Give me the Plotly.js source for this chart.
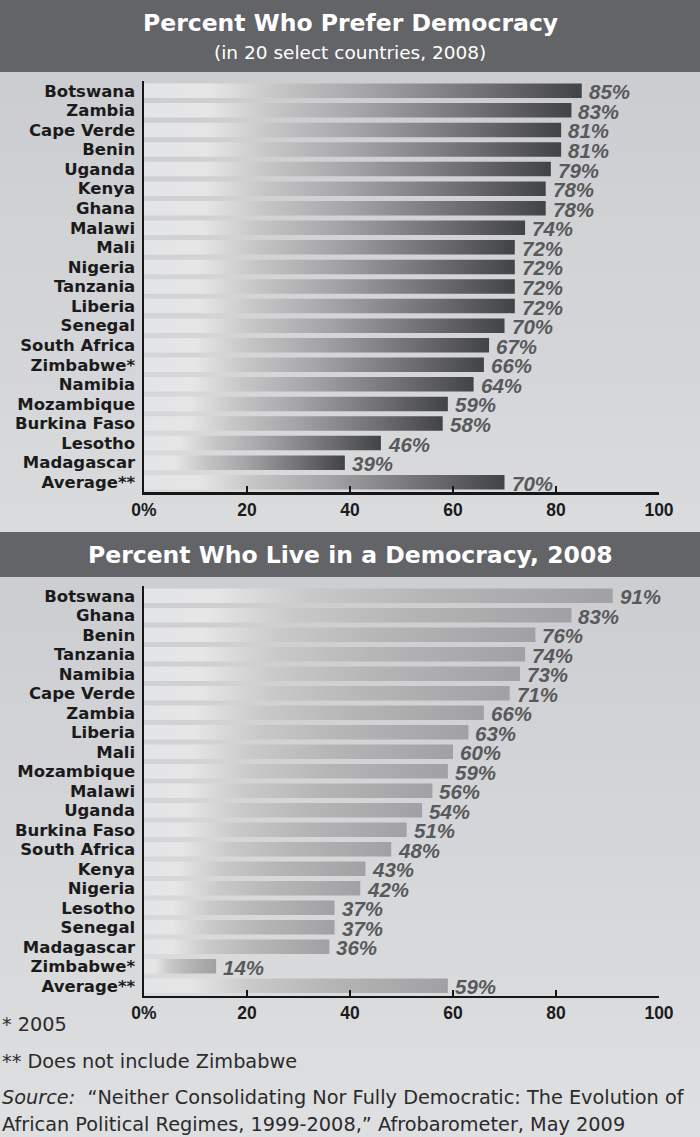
<!DOCTYPE html>
<html>
<head>
<meta charset="utf-8">
<script src="https://cdn.plot.ly/plotly-3.0.1.min.js"></script>
<style>
  html, body { margin: 0; padding: 0; background: #d8d9db; }
  #chart { width: 700px; height: 1137px; }
</style>
</head>
<body>
<div id="chart"></div>
<script>
// ---- Data ----
const preferCountries = ["Botswana","Zambia","Cape Verde","Benin","Uganda","Kenya","Ghana","Malawi","Mali","Nigeria","Tanzania","Liberia","Senegal","South Africa","Zimbabwe*","Namibia","Mozambique","Burkina Faso","Lesotho","Madagascar","Average**"];
const preferValues = [85,83,81,81,79,78,78,74,72,72,72,72,70,67,66,64,59,58,46,39,70];

const liveCountries = ["Botswana","Ghana","Benin","Tanzania","Namibia","Cape Verde","Zambia","Liberia","Mali","Mozambique","Malawi","Uganda","Burkina Faso","South Africa","Kenya","Nigeria","Lesotho","Senegal","Madagascar","Zimbabwe*","Average**"];
const liveValues = [91,83,76,74,73,71,66,63,60,59,56,54,51,48,43,42,37,37,36,14,59];

const xTickVals = [0,20,40,60,80,100];
const xTickText = ["0%","20","40","60","80","100"];

const title1 = "Percent Who Prefer Democracy";
const subtitle1 = "(in 20 select countries, 2008)";
const title2 = "Percent Who Live in a Democracy, 2008";
const footnote1 = "* 2005";
const footnote2 = "** Does not include Zimbabwe";
const source1 = "<i>Source:</i>\u00a0\u00a0“Neither Consolidating Nor Fully Democratic: The Evolution of";
const source2 = "African Political Regimes, 1999-2008,” Afrobarometer, May 2009";

// ---- Styles ----
const W = 700, H = 1137;
const py = px => 1 - px / H;
const HALF = 0.37;
const darkScale = [[0,'#e3e4e5'],[0.15,'#e6e6e7'],[0.3,'#c6c6c7'],[0.5,'#a6a6a8'],[0.8,'#6c6c6f'],[1,'#424346']];
const lightScale = [[0,'#e3e4e5'],[0.15,'#e6e6e7'],[0.35,'#c9c9ca'],[0.6,'#b6b6b7'],[1,'#a1a1a3']];

const traces = [];
function addBars(values, xa, ya, scale) {
  values.forEach((v, i) => {
    traces.push({
      type: 'scatter', mode: 'none', xaxis: xa, yaxis: ya,
      x: [0, v, v, 0, 0],
      y: [i - HALF, i - HALF, i + HALF, i + HALF, i - HALF],
      fill: 'toself',
      fillcolor: '#888',
      fillgradient: { type: 'horizontal', colorscale: scale },
      hoverinfo: 'skip', showlegend: false
    });
  });
}
addBars(preferValues, 'x', 'y', darkScale);
addBars(liveValues, 'x2', 'y2', lightScale);

const valueFont = { family: 'Liberation Sans, Arial, sans-serif', size: 20.5, weight: 'bold', style: 'italic', color: '#58595b' };
const annotations = [];
function addLabels(values, xa, ya) {
  values.forEach((v, i) => {
    annotations.push({
      xref: xa, yref: ya, x: v, y: i, text: v + '%',
      xanchor: 'left', yanchor: 'middle', xshift: 5, yshift: -1,
      showarrow: false, font: valueFont
    });
  });
}
addLabels(preferValues, 'x', 'y');
addLabels(liveValues, 'x2', 'y2');

const titleFont = { family: 'DejaVu Sans, sans-serif', size: 23.5, weight: 'bold', color: '#ffffff' };
annotations.push({ xref: 'paper', yref: 'paper', x: 0.5, y: py(23), text: title1, showarrow: false, xanchor: 'center', yanchor: 'middle', font: titleFont });
annotations.push({ xref: 'paper', yref: 'paper', x: 0.5, y: py(53), text: subtitle1, showarrow: false, xanchor: 'center', yanchor: 'middle', font: { family: 'DejaVu Sans, sans-serif', size: 18.5, color: '#ffffff' } });
annotations.push({ xref: 'paper', yref: 'paper', x: 0.5, y: py(555), text: title2, showarrow: false, xanchor: 'center', yanchor: 'middle', font: titleFont });

const footFont = { family: 'DejaVu Sans, sans-serif', size: 19.3, color: '#2b2b2c' };
[[footnote1, 1024.5],[footnote2, 1061],[source1, 1097.5],[source2, 1124.5]].forEach(([t, y]) => {
  annotations.push({ xref: 'paper', yref: 'paper', x: 0, xshift: 0, y: py(y), text: t, showarrow: false, xanchor: 'left', yanchor: 'middle', font: footFont });
});

// subtle vertical background shading (style only)
function hex(c) { return Math.round(c).toString(16).padStart(2, '0'); }
function shade(top, bot, c0, c1, n) {
  const out = [];
  for (let k = 0; k < n; k++) {
    const t = k / (n - 1);
    const r = c0[0] + (c1[0] - c0[0]) * t, g = c0[1] + (c1[1] - c0[1]) * t, b = c0[2] + (c1[2] - c0[2]) * t;
    const y0 = top + (bot - top) * k / n, y1 = top + (bot - top) * (k + 1) / n;
    out.push({ type: 'rect', xref: 'paper', yref: 'paper', x0: 0, x1: 1, y0: py(y1 + 0.5), y1: py(y0),
      fillcolor: '#' + hex(r) + hex(g) + hex(b), line: { width: 0 }, layer: 'below' });
  }
  return out;
}
const shapes = [].concat(
  shade(72, 532, [204, 205, 208], [218, 219, 221], 16),
  shade(577, 1137, [205, 206, 209], [222, 223, 225], 18),
  [
    { type: 'rect', xref: 'paper', yref: 'paper', x0: 0, x1: 1, y0: py(72), y1: 1, fillcolor: '#636467', line: { width: 0 }, layer: 'below' },
    { type: 'rect', xref: 'paper', yref: 'paper', x0: 0, x1: 1, y0: py(577), y1: py(532), fillcolor: '#636467', line: { width: 0 }, layer: 'below' }
  ]
);

const catFont = { family: 'DejaVu Sans, sans-serif', size: 16.5, weight: 'bold', color: '#1b1b1c' };
const tickFont = { family: 'Liberation Sans, Arial, sans-serif', size: 17.5, weight: 'bold', color: '#1b1b1c' };
const xDomain = [144 / W, 659 / W];

function xAxis(anchor) {
  return {
    domain: xDomain, range: [0, 100], anchor: anchor,
    tickvals: xTickVals, ticktext: xTickText,
    ticks: 'inside', ticklen: 6, tickwidth: 2, tickcolor: '#161616',
    showline: true, linewidth: 2.5, linecolor: '#161616',
    showgrid: false, zeroline: false, tickfont: tickFont, fixedrange: true
  };
}
function yAxis(anchor, cats, dom) {
  return {
    domain: dom, range: [20.5, -0.5], anchor: anchor,
    tickvals: cats.map((c, i) => i), ticktext: cats,
    ticks: '', showline: true, linewidth: 2.5, linecolor: '#161616',
    showgrid: false, zeroline: false, tickfont: catFont,
    ticklabelstandoff: 3, fixedrange: true
  };
}

const layout = {
  width: W, height: H,
  margin: { l: 0, r: 0, t: 0, b: 0 },
  paper_bgcolor: '#d8d9db', plot_bgcolor: 'rgba(0,0,0,0)',
  showlegend: false,
  xaxis: xAxis('y'),
  yaxis: yAxis('x', preferCountries, [py(492), py(81)]),
  xaxis2: xAxis('y2'),
  yaxis2: yAxis('x2', liveCountries, [py(995.5), py(586)]),
  shapes: shapes,
  annotations: annotations
};

Plotly.newPlot('chart', traces, layout, { displayModeBar: false, staticPlot: true });
</script>
</body>
</html>
